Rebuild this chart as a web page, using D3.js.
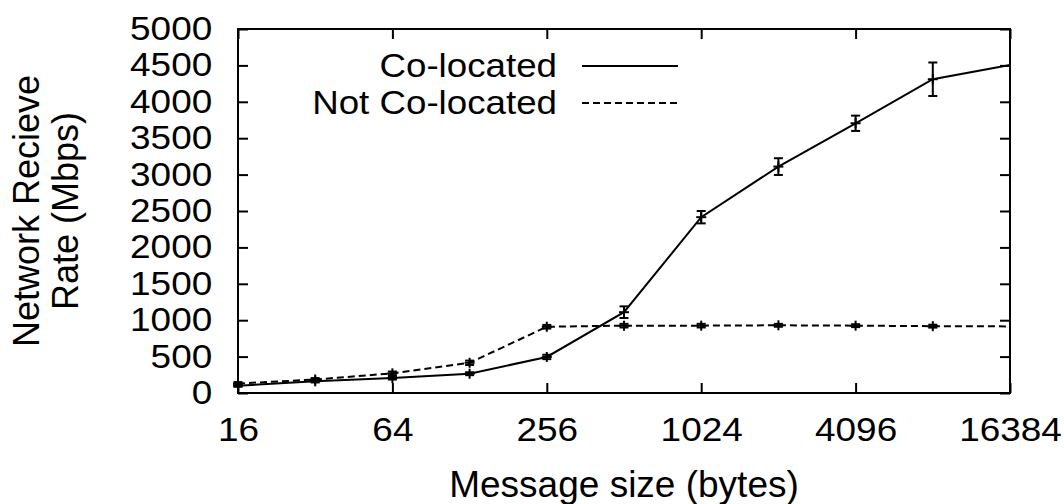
<!DOCTYPE html>
<html>
<head>
<meta charset="utf-8">
<script src="https://cdn.jsdelivr.net/npm/d3@7"></script>
<style>
  html, body { margin: 0; padding: 0; background: #fff; }
  svg { display: block; }
  text { font-family: "Liberation Sans", Arial, Helvetica, sans-serif; fill: #000; }
</style>
</head>
<body>
<svg id="chart" width="1064" height="504"></svg>
<script>
// Message sizes (bytes) measured
const sizes = [16, 32, 64, 128, 256, 512, 1024, 2048, 4096, 8192, 16384];
// Network receive rate (Mbps), mean and error half-width
const coLocated = [100, 160, 205, 265, 495, 1110, 2415, 3110, 3705, 4310, 4505];
const coLocatedErr = [15, 15, 20, 20, 30, 80, 85, 115, 105, 230, 0];
const notCoLocated = [130, 185, 270, 415, 910, 925, 925, 930, 925, 918, 915];
const notCoLocatedErr = [20, 20, 25, 30, 25, 25, 25, 20, 20, 20, 20];
// Axis ticks
const xTicks = [16, 64, 256, 1024, 4096, 16384];
const yTicks = [0, 500, 1000, 1500, 2000, 2500, 3000, 3500, 4000, 4500, 5000];
const seriesNames = ["Co-located", "Not Co-located"];

const TICK_FONT = 33;      // tick label font size
const TICK_STRETCH = 1.12; // tick digits are set slightly wide
const TITLE_FONT = 37;     // x axis title
const YTITLE_FONT = 36;    // y axis title
const LEGEND_FONT = 34;
const LEGEND_STRETCH = 1.08;

const svg = d3.select("#chart");
const plotL = 238, plotR = 1010, plotT = 29, plotB = 393;

const x = d3.scaleLog().base(2).domain([16, 16384]).range([plotL, plotR]);
const y = d3.scaleLinear().domain([0, 5000]).range([plotB, plotT]);

svg.append("rect").attr("width", 1064).attr("height", 504).attr("fill", "#fff");

function styleTicks(g) {
  g.select(".domain").remove();
  g.selectAll(".tick line").attr("stroke", "#000").attr("stroke-width", 2);
  g.selectAll(".tick text")
    .attr("font-size", TICK_FONT)
    .attr("font-family", '"Liberation Sans", Arial, Helvetica, sans-serif')
    .attr("fill", "#000")
    .attr("transform", `scale(${TICK_STRETCH},1)`);
}

// bottom axis with labels
svg.append("g")
  .attr("transform", `translate(0,${plotB})`)
  .call(d3.axisBottom(x).tickValues(xTicks).tickFormat(d3.format("d"))
    .tickSizeInner(-10).tickSizeOuter(0).tickPadding(25))
  .call(styleTicks);

// top mirror ticks
svg.append("g")
  .attr("transform", `translate(0,${plotT})`)
  .call(d3.axisTop(x).tickValues(xTicks).tickFormat("")
    .tickSizeInner(-10).tickSizeOuter(0))
  .call(styleTicks);

// left axis with labels
svg.append("g")
  .attr("transform", `translate(${plotL},0)`)
  .call(d3.axisLeft(y).tickValues(yTicks).tickFormat(d3.format("d"))
    .tickSizeInner(-10).tickSizeOuter(0).tickPadding(23))
  .call(styleTicks);

// right mirror ticks
svg.append("g")
  .attr("transform", `translate(${plotR},0)`)
  .call(d3.axisRight(y).tickValues(yTicks).tickFormat("")
    .tickSizeInner(-10).tickSizeOuter(0))
  .call(styleTicks);

// plot frame
svg.append("rect")
  .attr("x", plotL).attr("y", plotT)
  .attr("width", plotR - plotL).attr("height", plotB - plotT)
  .attr("fill", "none").attr("stroke", "#000").attr("stroke-width", 2);

// axis titles
svg.append("text")
  .attr("transform", `translate(${(plotL + plotR) / 2},497)`)
  .attr("text-anchor", "middle")
  .attr("font-size", TITLE_FONT)
  .text("Message size (bytes)");

const yTitle = ["Network Recieve", "Rate (Mbps)"];
yTitle.forEach((t, i) => {
  svg.append("text")
    .attr("transform", `translate(${38.5 + i * 39},${(plotT + plotB) / 2}) rotate(-90)`)
    .attr("text-anchor", "middle")
    .attr("font-size", YTITLE_FONT)
    .text(t);
});

// series
const series = [
  { name: seriesNames[0], values: coLocated, errs: coLocatedErr, dash: null },
  { name: seriesNames[1], values: notCoLocated, errs: notCoLocatedErr, dash: "7,4" }
].map(s => ({
  ...s,
  points: sizes.map((sz, i) => ({ size: sz, value: s.values[i], err: s.errs[i] }))
}));

const line = d3.line().x(d => x(d.size)).y(d => y(d.value));

series.slice().reverse().forEach(s => {
  const g = svg.append("g");
  g.append("path")
    .attr("d", line(s.points))
    .attr("fill", "none")
    .attr("stroke", "#000")
    .attr("stroke-width", 2)
    .attr("stroke-dasharray", s.dash);

  // points on the right border are clipped by the frame
  const pts = s.points.filter(d => d.size < sizes[sizes.length - 1]);
  const cap = 4.5, arm = 5;
  const pg = g.selectAll("g.pt").data(pts).join("g")
    .attr("class", "pt")
    .attr("stroke", "#000").attr("stroke-width", 2);
  // error bar
  pg.append("line")
    .attr("x1", d => x(d.size)).attr("x2", d => x(d.size))
    .attr("y1", d => y(d.value - d.err)).attr("y2", d => y(d.value + d.err));
  pg.append("line")
    .attr("x1", d => x(d.size) - cap).attr("x2", d => x(d.size) + cap)
    .attr("y1", d => y(d.value - d.err)).attr("y2", d => y(d.value - d.err));
  pg.append("line")
    .attr("x1", d => x(d.size) - cap).attr("x2", d => x(d.size) + cap)
    .attr("y1", d => y(d.value + d.err)).attr("y2", d => y(d.value + d.err));
  // plus marker
  pg.append("line")
    .attr("x1", d => x(d.size) - arm).attr("x2", d => x(d.size) + arm)
    .attr("y1", d => y(d.value)).attr("y2", d => y(d.value));
  pg.append("line")
    .attr("x1", d => x(d.size)).attr("x2", d => x(d.size))
    .attr("y1", d => y(d.value) - arm).attr("y2", d => y(d.value) + arm);
});

// legend
const legend = svg.append("g");
series.forEach((s, i) => {
  const ly = 77 + i * 37;
  legend.append("text")
    .attr("transform", `translate(557,${ly}) scale(${LEGEND_STRETCH},1)`)
    .attr("text-anchor", "end")
    .attr("font-size", LEGEND_FONT)
    .text(s.name);
  legend.append("line")
    .attr("x1", 582).attr("x2", 678)
    .attr("y1", ly - 11).attr("y2", ly - 11)
    .attr("stroke", "#000").attr("stroke-width", 2)
    .attr("stroke-dasharray", s.dash);
});
</script>
</body>
</html>
